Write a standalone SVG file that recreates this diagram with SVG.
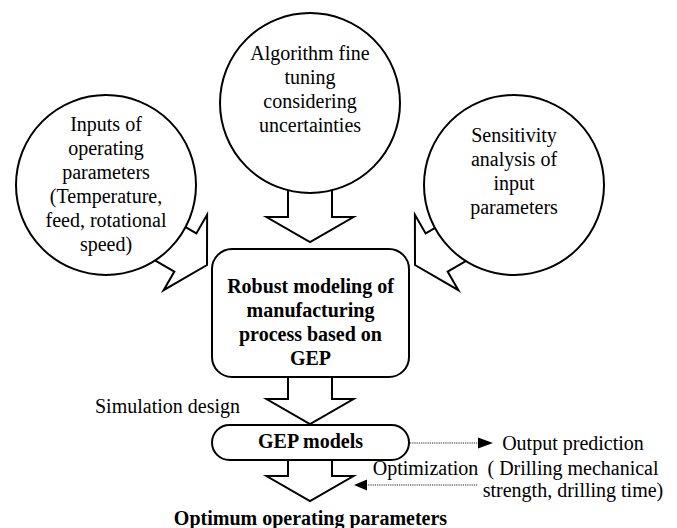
<svg xmlns="http://www.w3.org/2000/svg" width="677" height="528" viewBox="0 0 677 528">
  <style>
    .shape { fill: #fff; stroke: #000; stroke-width: 2; stroke-linejoin: miter; }
    .txt { font-family: 'Liberation Serif', 'Times New Roman', serif; font-size: 20px; fill: #000; text-anchor: middle; }
    .bold { font-weight: bold; }
    .dot { fill: none; stroke: #222; stroke-width: 1.2; stroke-dasharray: 1.2 1; }
    .head { fill: #000; stroke: none; }
  </style>
  <defs>
    <!-- block arrow pointing down, tip at origin -->
    <path id="blockArrow" d="M-22,-62 L-22,-25 L-43.5,-25 L0,0 L43.5,-25 L22,-25 L22,-62 Z"/>
  </defs>

  <!-- block arrows (drawn first so the nodes cover their tails) -->
  <g id="connectors">
    <use href="#blockArrow" class="shape" transform="translate(310,242)"/>
    <use href="#blockArrow" class="shape" transform="translate(207,265) rotate(-60)"/>
    <use href="#blockArrow" class="shape" transform="translate(415,265) rotate(60)"/>
    <use href="#blockArrow" class="shape" transform="translate(310,424)"/>
    <use href="#blockArrow" class="shape" transform="translate(310,501)"/>
    <!-- GEP models to output prediction -->
    <line class="dot" x1="410" y1="443" x2="479" y2="443"/>
    <polygon class="head" points="478,437.5 493,443 478,448.5"/>
    <!-- optimization feedback -->
    <line class="dot" x1="366" y1="485" x2="478" y2="485"/>
    <polygon class="head" points="367,479.5 354,485 367,490.5"/>
  </g>

  <g id="node-inputs">
    <circle class="shape" cx="106" cy="185" r="90"/>
    <text class="txt" x="106" y="131">Inputs of</text>
    <text class="txt" x="106" y="155">operating</text>
    <text class="txt" x="106" y="179">parameters</text>
    <text class="txt" x="106" y="203">(Temperature,</text>
    <text class="txt" x="106" y="227">feed, rotational</text>
    <text class="txt" x="106" y="251">speed)</text>
  </g>

  <g id="node-tuning">
    <circle class="shape" cx="310" cy="103" r="90"/>
    <text class="txt" x="310" y="60">Algorithm fine</text>
    <text class="txt" x="310" y="84">tuning</text>
    <text class="txt" x="310" y="108">considering</text>
    <text class="txt" x="310" y="132">uncertainties</text>
  </g>

  <g id="node-sensitivity">
    <circle class="shape" cx="514" cy="185" r="90"/>
    <text class="txt" x="514" y="142">Sensitivity</text>
    <text class="txt" x="514" y="166">analysis of</text>
    <text class="txt" x="514" y="190">input</text>
    <text class="txt" x="514" y="214">parameters</text>
  </g>

  <g id="node-modeling">
    <rect class="shape" x="212" y="249" width="197" height="128" rx="20" ry="20"/>
    <text class="txt bold" x="310.5" y="293">Robust modeling of</text>
    <text class="txt bold" x="310.5" y="317">manufacturing</text>
    <text class="txt bold" x="310.5" y="341">process based on</text>
    <text class="txt bold" x="310.5" y="365">GEP</text>
  </g>

  <g id="node-gep">
    <rect class="shape" x="212" y="425" width="197" height="35" rx="17.5" ry="17.5"/>
    <text class="txt bold" x="310.5" y="448">GEP models</text>
  </g>

  <g id="labels">
    <text class="txt" x="95" y="413" style="text-anchor:start">Simulation design</text>
    <text class="txt" x="573" y="450">Output prediction</text>
    <text class="txt" x="573" y="475">( Drilling mechanical</text>
    <text class="txt" x="573" y="497">strength, drilling time)</text>
    <text class="txt" x="425.5" y="475">Optimization</text>
    <text class="txt bold" x="310.5" y="525">Optimum operating parameters</text>
  </g>
</svg>
